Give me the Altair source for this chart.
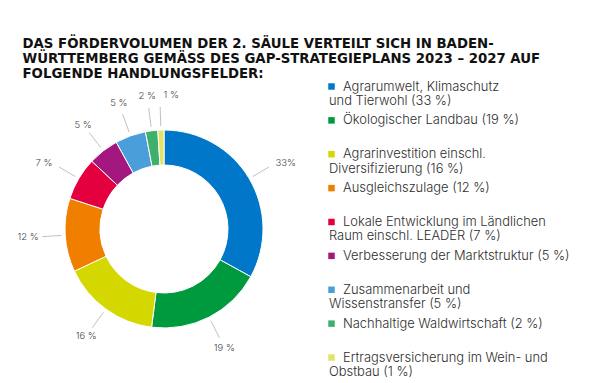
import altair as alt
import pandas as pd

title_lines = [
    "DAS FÖRDERVOLUMEN DER 2. SÄULE VERTEILT SICH IN BADEN-",
    "WÜRTTEMBERG GEMÄSS DES GAP-STRATEGIEPLANS 2023 – 2027 AUF",
    "FOLGENDE HANDLUNGSFELDER:",
]
categories = [
    "Agrarumwelt, Klimaschutz und Tierwohl",
    "Ökologischer Landbau",
    "Agrarinvestition einschl. Diversifizierung",
    "Ausgleichszulage",
    "Lokale Entwicklung im Ländlichen Raum einschl. LEADER",
    "Verbesserung der Marktstruktur",
    "Zusammenarbeit und Wissenstransfer",
    "Nachhaltige Waldwirtschaft",
    "Ertragsversicherung im Wein- und Obstbau",
]
shares = [33, 19, 16, 12, 7, 5, 5, 2, 1]
pct_labels = ["33%", "19 %", "16 %", "12 %", "7 %", "5 %", "5 %", "2 %", "1 %"]
legend_first = [
    "Agrarumwelt, Klimaschutz",
    "Ökologischer Landbau (19 %)",
    "Agrarinvestition einschl.",
    "Ausgleichszulage (12 %)",
    "Lokale Entwicklung im Ländlichen",
    "Verbesserung der Marktstruktur (5 %)",
    "Zusammenarbeit und",
    "Nachhaltige Waldwirtschaft (2 %)",
    "Ertragsversicherung im Wein- und",
]
legend_rest = [
    "und Tierwohl (33 %)",
    "",
    "Diversifizierung (16 %)",
    "",
    "Raum einschl. LEADER (7 %)",
    "",
    "Wissenstransfer (5 %)",
    "",
    "Obstbau (1 %)",
]
colors = ["#0077c8", "#009a3e", "#d4d800", "#f07f00", "#e4003f",
          "#a3177e", "#4a9fdb", "#3fb06c", "#e3e36a"]

df = pd.DataFrame({
    "cat": categories,
    "share": shares,
    "pct": pct_labels,
    "idx": list(range(len(categories))),
    "first": legend_first,
    "rest": legend_rest,
})

FONT = "Inter"
TITLE_FONT = "DejaVu Sans"
W1, H = 280, 298
CX, CY = W1 / 2, H / 2
R_IN, R_OUT = 64, 99
R1, R2, RL = 103, 122, 125

color = alt.Color("cat:N", scale=alt.Scale(domain=categories, range=colors), legend=None)

base = alt.Chart(df)

arcs = base.mark_arc(innerRadius=R_IN, outerRadius=R_OUT, stroke="white", strokeWidth=1).encode(
    theta=alt.Theta("share:Q", stack=True),
    color=color,
    order=alt.Order("idx:Q"),
)

geo = (
    base.transform_joinaggregate(total="sum(share)")
    .transform_window(cum="sum(share)", sort=[alt.SortField("idx")])
    .transform_calculate(ang="2*PI*(datum.cum - datum.share/2)/datum.total")
    .transform_window(prev_ang="lag(ang)", sort=[alt.SortField("idx")])
    .transform_calculate(
        lang="datum.prev_ang == null ? datum.ang : max(datum.ang, datum.prev_ang + 0.18)"
    )
    .transform_calculate(
        x1=f"{CX}+{R1}*sin(datum.ang)", y1=f"{CY}-{R1}*cos(datum.ang)",
        x2=f"{CX}+{R2}*sin(datum.ang)", y2=f"{CY}-{R2}*cos(datum.ang)",
        rl=f"{RL}+9*abs(cos(datum.lang))",
    )
    .transform_calculate(
        lx=f"{CX}+datum.rl*sin(datum.lang)", ly=f"{CY}-datum.rl*cos(datum.lang)",
        side="sin(datum.lang) > 0.75 ? 'r' : (sin(datum.lang) < -0.75 ? 'l' : 'c')",
    )
)

rules = geo.mark_rule(color="#b0b0b0", strokeWidth=0.8).encode(
    x=alt.X("x1:Q", scale=None, axis=None),
    y=alt.Y("y1:Q", scale=None, axis=None),
    x2="x2:Q",
    y2="y2:Q",
)

def label_layer(side, align):
    return geo.transform_filter(f"datum.side == '{side}'").mark_text(
        align=align, baseline="middle", font=FONT, fontSize=9.5, fontWeight=300, color="#444444"
    ).encode(
        x=alt.X("lx:Q", scale=None, axis=None),
        y=alt.Y("ly:Q", scale=None, axis=None),
        text="pct:N",
    )

donut = alt.layer(
    arcs, rules,
    label_layer("r", "left"), label_layer("l", "right"), label_layer("c", "center"),
).properties(width=W1, height=H)

yscale = alt.Scale(type="point", range=[6.5, 277.5], padding=0)
yenc = alt.Y("idx:O", scale=yscale, axis=None)

squares = base.mark_square(size=42, opacity=1).encode(
    x=alt.value(3.5), y=yenc, color=color,
)
first = base.mark_text(align="left", baseline="middle", font=FONT, fontSize=12.9, fontWeight=300,
                       color="#2e2e2e").encode(
    x=alt.value(15), y=yenc, text="first:N",
)
rest = base.mark_text(align="left", baseline="middle", font=FONT, fontSize=12.9, fontWeight=300,
                      color="#2e2e2e", dy=14.3).encode(
    x=alt.value(1), y=yenc, text="rest:N",
)
legend = alt.layer(squares, first, rest).properties(width=258, height=H)

chart = alt.hconcat(donut, legend, spacing=24).properties(
    title=alt.TitleParams(
        text=title_lines, anchor="start", font=TITLE_FONT, fontSize=13.3, fontWeight="bold",
        lineHeight=15, color="#111111", offset=0, dx=5,
    ),
    padding={"left": 9, "top": 28, "right": 5, "bottom": 5},
).configure_view(stroke=None)

chart.save("out.html", embed_options={"renderer": "svg", "actions": False})
